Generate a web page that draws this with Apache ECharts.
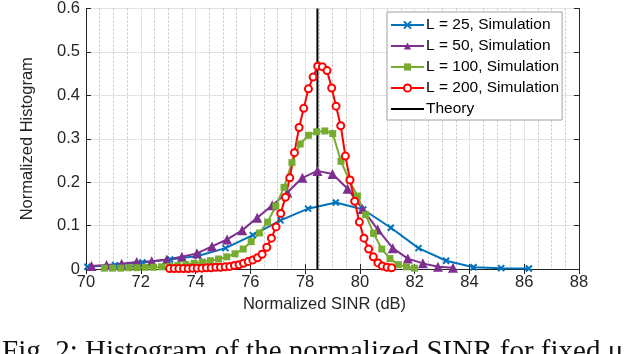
<!DOCTYPE html>
<html>
<head>
<meta charset="utf-8">
<script src="https://cdn.jsdelivr.net/npm/echarts@6/dist/echarts.min.js"></script>
<style>
  html, body { margin: 0; padding: 0; background: #fff; }
  #chart { width: 626px; height: 354px; }
</style>
</head>
<body>
<div id="chart"></div>
<script>
// values
const xTicks = [70, 72, 74, 76, 78, 80, 82, 84, 86, 88]
const yTicks = [0, 0.1, 0.2, 0.3, 0.4, 0.5, 0.6]

const x25 = [70.05, 71.06, 72.06, 73.07, 74.08, 75.09, 76.09, 77.1, 78.11, 79.12, 80.12, 81.13, 82.14, 83.15, 84.15, 85.16, 86.17]
const y25 = [0.005, 0.009, 0.015, 0.022, 0.030, 0.048, 0.078, 0.112, 0.139, 0.153, 0.137, 0.095, 0.048, 0.019, 0.004, 0.002, 0.001]

const x50 = [70.2, 70.75, 71.3, 71.85, 72.4, 72.95, 73.5, 74.05, 74.6, 75.15, 75.7, 76.25, 76.8, 77.35, 77.9, 78.45, 79.0, 79.55, 80.1, 80.65, 81.2, 81.75, 82.3, 82.85, 83.4]
const y50 = [0.007, 0.009, 0.012, 0.016, 0.018, 0.022, 0.028, 0.036, 0.052, 0.068, 0.089, 0.118, 0.147, 0.176, 0.21, 0.226, 0.219, 0.185, 0.138, 0.091, 0.048, 0.024, 0.013, 0.005, 0.003]

const x100 = [70.67, 70.97, 71.27, 71.56, 71.86, 72.16, 72.46, 72.76, 73.05, 73.35, 73.65, 73.95, 74.25, 74.54, 74.84, 75.14, 75.44, 75.74, 76.03, 76.33, 76.63, 76.93, 77.23, 77.52, 77.82, 78.12, 78.42, 78.72, 79.01, 79.31, 79.61, 79.91, 80.21, 80.50, 80.80, 81.10, 81.40, 81.70, 81.99]
const y100 = [0.002, 0.002, 0.002, 0.003, 0.003, 0.004, 0.004, 0.005, 0.006, 0.008, 0.010, 0.013, 0.016, 0.019, 0.023, 0.028, 0.035, 0.046, 0.063, 0.083, 0.108, 0.145, 0.188, 0.245, 0.288, 0.308, 0.316, 0.318, 0.312, 0.248, 0.205, 0.168, 0.125, 0.082, 0.046, 0.024, 0.010, 0.005, 0.002]

const x200 = [73.05, 73.22, 73.39, 73.56, 73.73, 73.90, 74.06, 74.23, 74.40, 74.57, 74.74, 74.91, 75.08, 75.25, 75.42, 75.59, 75.75, 75.92, 76.09, 76.26, 76.43, 76.60, 76.77, 76.94, 77.11, 77.28, 77.44, 77.61, 77.78, 77.95, 78.12, 78.29, 78.46, 78.63, 78.80, 78.97, 79.13, 79.30, 79.47, 79.64, 79.81, 79.98, 80.15, 80.32, 80.49, 80.66, 80.82, 80.99, 81.16]
const y200 = [0.001, 0.001, 0.001, 0.001, 0.001, 0.002, 0.002, 0.002, 0.003, 0.003, 0.004, 0.004, 0.005, 0.006, 0.008, 0.010, 0.013, 0.017, 0.021, 0.026, 0.034, 0.050, 0.071, 0.097, 0.128, 0.165, 0.21, 0.268, 0.326, 0.37, 0.415, 0.442, 0.467, 0.466, 0.457, 0.417, 0.375, 0.33, 0.26, 0.205, 0.156, 0.108, 0.071, 0.046, 0.028, 0.014, 0.007, 0.004, 0.003]

const theoryX = 78.45

const names = ['L = 25, Simulation', 'L = 50, Simulation', 'L = 100, Simulation', 'L = 200, Simulation', 'Theory']
const caption = 'Fig. 2: Histogram of the normalized SINR for fixed \u03bc'

const font = '"Liberation Sans", Arial, sans-serif'
const axisColor = '#262626'

function pairs(xs, ys) {
    return xs.map((x, i) => [x, ys[i]])
}

const chart = echarts.init(document.getElementById('chart'), null, { renderer: 'canvas' })

const baseX = {
    type: 'value',
    min: xTicks[0],
    max: xTicks[xTicks.length - 1],
    interval: 2
}
const baseY = {
    type: 'value',
    min: yTicks[0],
    max: yTicks[yTicks.length - 1],
    interval: 0.1
}

chart.setOption({
    animation: false,
    backgroundColor: '#fff',
    textStyle: { fontFamily: font },
    grid: { left: 86, right: 47, top: 8, bottom: 85, containLabel: false },
    legend: {
        orient: 'vertical',
        left: 387,
        top: 12,
        data: names.slice(0, 4).concat([{ name: names[4], icon: 'path://M0,0H33V2H0Z' }]),
        backgroundColor: '#fff',
        borderColor: '#a0a0a0',
        borderWidth: 1,
        borderRadius: 0,
        padding: [5, 3, 3, 3],
        itemWidth: 33,
        itemHeight: 9,
        itemGap: 5,
        textStyle: { fontSize: 15.5, color: '#000', fontFamily: font, padding: [0, 0, 0, -3] }
    },
    xAxis: [
        Object.assign({}, baseX, {
            position: 'bottom',
            name: 'Normalized SINR (dB)',
            nameLocation: 'middle',
            nameGap: 19,
            nameTextStyle: { fontSize: 16.5, color: axisColor, padding: [0, 16, 0, 0] },
            axisLine: { show: true, lineStyle: { color: axisColor, width: 1 } },
            axisTick: { show: true, inside: true, length: 5, lineStyle: { color: axisColor } },
            axisLabel: { fontSize: 16.5, color: axisColor, margin: 5 },
            splitLine: { show: true, lineStyle: { color: '#e3e3e3', width: 1 } },
            minorTick: { show: false, splitNumber: 4 },
            minorSplitLine: { show: true, lineStyle: { color: '#c4c4c4', width: 1, type: [2, 2] } }
        }),
        Object.assign({}, baseX, {
            position: 'top',
            axisLine: { show: true, lineStyle: { color: axisColor, width: 1 } },
            axisTick: { show: true, inside: true, length: 5, lineStyle: { color: axisColor } },
            axisLabel: { show: false },
            splitLine: { show: false }
        })
    ],
    yAxis: [
        Object.assign({}, baseY, {
            position: 'left',
            name: 'Normalized Histogram',
            nameLocation: 'middle',
            nameGap: 50,
            nameTextStyle: { fontSize: 16.5, color: axisColor },
            axisLine: { show: true, lineStyle: { color: axisColor, width: 1 } },
            axisTick: { show: true, inside: true, length: 5, lineStyle: { color: axisColor } },
            axisLabel: {
                fontSize: 16.5,
                color: axisColor,
                margin: 6,
                formatter: v => (v === 0 ? '0' : v.toFixed(1))
            },
            splitLine: { show: true, lineStyle: { color: '#e3e3e3', width: 1 } }
        }),
        Object.assign({}, baseY, {
            position: 'right',
            axisLine: { show: true, lineStyle: { color: axisColor, width: 1 } },
            axisTick: { show: true, inside: true, length: 5, lineStyle: { color: axisColor } },
            axisLabel: { show: false },
            splitLine: { show: false }
        })
    ],
    series: [
        {
            name: names[0],
            type: 'line',
            data: pairs(x25, y25),
            symbol: 'path://M0,0L10,10M0,10L10,0',
            symbolSize: 6,
            lineStyle: { color: '#0072BD', width: 2 },
            itemStyle: { color: '#0072BD', borderColor: '#0072BD', borderWidth: 2 }
        },
        {
            name: names[1],
            type: 'line',
            data: pairs(x50, y50),
            symbol: 'triangle',
            symbolSize: 10,
            lineStyle: { color: '#7E2F8E', width: 2 },
            itemStyle: { color: '#7E2F8E', borderColor: '#7E2F8E', borderWidth: 0 }
        },
        {
            name: names[2],
            type: 'line',
            data: pairs(x100, y100),
            symbol: 'rect',
            symbolSize: 7,
            lineStyle: { color: '#77AC30', width: 2 },
            itemStyle: { color: '#77AC30', borderColor: '#77AC30', borderWidth: 0 }
        },
        {
            name: names[3],
            type: 'line',
            data: pairs(x200, y200),
            symbol: 'emptyCircle',
            symbolSize: 7,
            lineStyle: { color: '#FF0000', width: 2 },
            itemStyle: { color: '#FF0000', borderColor: '#FF0000', borderWidth: 1.5 }
        },
        {
            name: names[4],
            type: 'line',
            data: [[theoryX, yTicks[0]], [theoryX, yTicks[yTicks.length - 1]]],
            symbol: 'none',
            lineStyle: { color: '#000', width: 2 },
            itemStyle: { color: '#000' }
        }
    ],
    graphic: [
        {
            type: 'text',
            left: 2,
            top: 338,
            style: {
                text: caption,
                font: '29px "Liberation Serif", "Times New Roman", serif',
                fill: '#111'
            }
        }
    ]
})
</script>
</body>
</html>
